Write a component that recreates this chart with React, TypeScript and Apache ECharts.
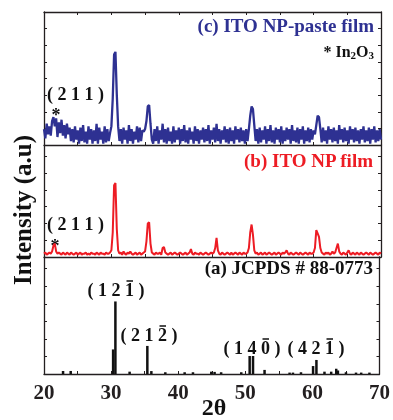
import React, { useEffect, useRef } from "react";
import * as echarts from "echarts";

// 2θ sampling of the measured patterns
const X_START = 20;
const X_STEP = 0.2;

// (c) ITO NP-paste film, arbitrary intensity (0-100 within its panel)
const pasteFilm = [
  12, 5, 16, 8, 14, 7, 18, 21, 14, 20, 6, 17, 9, 19, 7, 15, 5, 16, 8, 13,
  3, 12, 2, 14, 4, 11, 1, 13, 3, 15, 2, 10, 1, 14, 4, 12, 1, 11, 3, 16,
  1, 13, 4, 10, 1, 14, 2, 12, 3, 9, 14, 35, 68, 70, 38, 14, 3, 12, 1, 13,
  4, 11, 1, 15, 3, 12, 1, 10, 4, 14, 2, 13, 3, 11, 10, 12, 18, 29, 30, 16,
  4, 1, 12, 3, 14, 1, 11, 4, 16, 2, 12, 1, 13, 3, 10, 1, 14, 2, 11, 4,
  13, 1, 12, 3, 15, 2, 11, 1, 13, 4, 10, 1, 14, 3, 12, 1, 11, 4, 13, 2,
  12, 3, 15, 1, 11, 4, 13, 2, 16, 3, 12, 1, 11, 4, 14, 2, 12, 1, 13, 3,
  11, 1, 14, 4, 12, 2, 13, 3, 11, 1, 12, 3, 12, 22, 29, 27, 15, 3, 12, 1,
  13, 2, 11, 4, 14, 1, 12, 3, 15, 2, 11, 1, 13, 4, 12, 2, 14, 1, 11, 3,
  13, 4, 12, 1, 15, 3, 11, 2, 13, 1, 12, 4, 14, 1, 11, 3, 13, 2, 12, 4,
  11, 8, 15, 22, 21, 12, 2, 13, 3, 11, 1, 14, 4, 12, 2, 13, 3, 11, 1, 15,
  4, 12, 2, 13, 3, 11, 1, 14, 4, 12, 2, 13, 3, 11, 1, 12, 4, 14, 2, 11,
  3, 13, 1, 12, 4, 14, 2, 11, 3, 12, 4,
];

// (b) ITO NP film
const npFilm = [
  3, 4, 2, 3, 4, 3, 5, 10, 12, 5, 3, 4, 3, 2, 4, 3, 2, 4, 3, 2,
  4, 3, 2, 3, 4, 2, 3, 4, 2, 3, 3, 4, 2, 3, 2, 4, 3, 3, 2, 4,
  3, 2, 4, 3, 3, 2, 4, 3, 3, 4, 6, 22, 64, 66, 25, 6, 3, 4, 2, 5,
  3, 2, 4, 3, 5, 3, 2, 3, 4, 2, 3, 4, 2, 3, 4, 5, 14, 30, 31, 12,
  4, 3, 2, 4, 3, 3, 4, 2, 8, 9, 4, 3, 2, 3, 4, 2, 3, 4, 3, 2,
  3, 4, 3, 2, 3, 4, 2, 3, 4, 7, 3, 2, 4, 3, 3, 2, 4, 3, 2, 3,
  4, 3, 2, 3, 4, 3, 4, 8, 17, 6, 3, 2, 4, 3, 2, 3, 4, 3, 2, 4,
  2, 3, 4, 3, 2, 4, 3, 2, 4, 3, 3, 4, 8, 22, 29, 20, 6, 3, 4, 2,
  3, 4, 2, 3, 4, 2, 3, 4, 3, 2, 3, 4, 2, 3, 4, 3, 2, 4, 3, 4,
  6, 3, 2, 4, 3, 2, 3, 4, 3, 2, 4, 3, 2, 3, 4, 3, 2, 4, 3, 3,
  4, 8, 24, 21, 18, 8, 4, 3, 2, 4, 3, 4, 2, 3, 5, 3, 4, 8, 12, 5,
  3, 2, 4, 3, 2, 4, 6, 3, 2, 4, 3, 2, 4, 3, 2, 4, 3, 2, 3, 4,
  3, 2, 4, 3, 2, 3, 4, 3, 2, 4, 3,
];

// (a) JCPDS # 88-0773 reference lines: [2θ, relative intensity]
const jcpdsLines: [number, number][] = [
  [22.84, 2.6], [23.98, 2.6], [30.3, 21], [30.64, 62], [32.76, 2],
  [35.4, 24], [36.0, 2.5], [38.08, 1.5], [40.96, 1.5], [42.2, 1.5],
  [44.93, 2], [45.42, 1.8], [46.4, 1.5], [49.4, 1.5], [50.65, 15.4],
  [51.15, 15.4], [52.87, 3.5], [56.6, 1.2], [57.1, 1.2], [58.3, 1.5],
  [60.1, 6.8], [60.6, 12], [61.8, 2], [62.8, 2], [63.55, 4.5],
  [63.8, 3], [65.0, 1.5], [66.5, 1.2], [67.27, 1.2], [68.5, 1.2],
];

// Miller-index labels of the JCPDS lines (last digit carries an overbar)
const hklLabels = ["( 1 2 1 )", "( 2 1 2 )", "( 1 4 0 )", "( 4 2 1 )"];

const xMajorLabels = [20, 30, 40, 50, 60, 70];

const FONT = "Liberation Serif";
const AXIS_COLOR = "#231f20";
const BLUE = "#2e3192";
const RED = "#ed1c24";

const toPairs = (vals: number[]) =>
  vals.map((v, i) => [+(X_START + i * X_STEP).toFixed(1), v]);

export default function App() {
  const ref = useRef<HTMLDivElement>(null);

  useEffect(() => {
    if (!ref.current) return;
    const chart = echarts.init(ref.current, null, { renderer: "svg" });

    const grids = [
      { left: 44, width: 337, top: 12, height: 133 },
      { left: 44, width: 337, top: 145, height: 112 },
      { left: 44, width: 337, top: 257, height: 117 },
    ];

    const axisLine = { show: true, onZero: false, lineStyle: { color: AXIS_COLOR, width: 1.3 } };
    const tick = { show: true, inside: true, length: 3, lineStyle: { color: AXIS_COLOR, width: 1 } };

    const xBase = {
      type: "value",
      min: 20,
      max: 70,
      interval: 5,
      axisLine,
      axisTick: tick,
      splitLine: { show: false },
    };

    const xAxes = [
      { ...xBase, gridIndex: 0, position: "bottom", axisLabel: { show: false } },
      { ...xBase, gridIndex: 1, position: "bottom", axisLabel: { show: false } },
      {
        ...xBase,
        gridIndex: 2,
        position: "bottom",
        axisLabel: {
          show: true,
          margin: 7,
          fontFamily: FONT,
          fontWeight: "bold",
          fontSize: 21,
          color: AXIS_COLOR,
          formatter: (v: number) => (xMajorLabels.includes(v) ? String(v) : ""),
        },
      },
      { ...xBase, gridIndex: 0, position: "top", axisLabel: { show: false } },
    ];

    const yIntervals = [12.5, 15, 15];
    const yAxes: any[] = [];
    [0, 1, 2].forEach((g) => {
      ["left", "right"].forEach((pos) => {
        yAxes.push({
          type: "value",
          gridIndex: g,
          position: pos,
          min: 0,
          max: 100,
          interval: yIntervals[g],
          axisLine,
          axisTick: tick,
          axisLabel: { show: false },
          splitLine: { show: false },
        });
      });
    });

    const labelStyle = (fill: string, size: number) => ({
      fill,
      fontFamily: FONT,
      fontWeight: "bold",
      fontSize: size,
    });

    const text = (
      t: string,
      x: number,
      y: number,
      align: string,
      fill: string,
      size: number
    ) => ({
      type: "text",
      x,
      y,
      style: {
        text: t,
        ...labelStyle(fill, size),
        textAlign: align,
        textVerticalAlign: "middle",
      },
    });

    const hklPos = [
      [116, 290],
      [149, 335],
      [252, 348],
      [316, 348],
    ];
    const hklGraphics: any[] = [];
    hklLabels.forEach((t, i) => {
      const [cx, cy] = hklPos[i];
      hklGraphics.push(text(t, cx, cy, "center", "#111", 18));
      hklGraphics.push({
        type: "line",
        shape: { x1: cx + 10.5, y1: cy - 9, x2: cx + 17, y2: cy - 9 },
        style: { stroke: "#111", lineWidth: 1.5 },
      });
    });

    const option: any = {
      animation: false,
      grid: grids,
      xAxis: xAxes,
      yAxis: yAxes,
      series: [
        {
          type: "line",
          xAxisIndex: 0,
          yAxisIndex: 0,
          data: toPairs(pasteFilm),
          symbol: "none",
          lineStyle: { color: BLUE, width: 2.3 },
        },
        {
          type: "line",
          xAxisIndex: 1,
          yAxisIndex: 2,
          data: toPairs(npFilm),
          symbol: "none",
          lineStyle: { color: RED, width: 2 },
        },
        {
          type: "bar",
          xAxisIndex: 2,
          yAxisIndex: 4,
          data: jcpdsLines,
          barWidth: 2.5,
          itemStyle: { color: "#111" },
        },
      ],
      graphic: [
        text("(c) ITO NP-paste film", 374, 25, "right", BLUE, 19),
        {
          type: "text",
          x: 374,
          y: 51,
          style: {
            text: "* In{s|2}O{s|3}",
            ...labelStyle("#111", 16),
            textAlign: "right",
            textVerticalAlign: "middle",
            rich: {
              s: { fill: "#111", fontSize: 11, fontFamily: FONT, fontWeight: "bold", padding: [8, 0, 0, 0] },
            },
          },
        },
        text("(b) ITO NP film", 373, 160, "right", RED, 19),
        text("(a) JCPDS # 88-0773", 373, 267, "right", "#111", 19),
        text("( 2 1 1 )", 47, 94, "left", "#111", 18),
        text("*", 56, 115, "center", "#111", 18),
        text("( 2 1 1 )", 47, 224, "left", "#111", 18),
        text("*", 55, 246, "center", "#111", 18),
        ...hklGraphics,
        text("2θ", 214, 407, "center", "#111", 24),
        {
          type: "text",
          x: 22,
          y: 210,
          rotation: Math.PI / 2,
          style: {
            text: "Intensity (a.u)",
            ...labelStyle("#111", 25),
            textAlign: "center",
            textVerticalAlign: "middle",
          },
        },
      ],
    };

    chart.setOption(option);
    return () => chart.dispose();
  }, []);

  return (
    <div
      ref={ref}
      style={{ position: "fixed", left: 0, top: 0, width: 393, height: 420 }}
    />
  );
}
